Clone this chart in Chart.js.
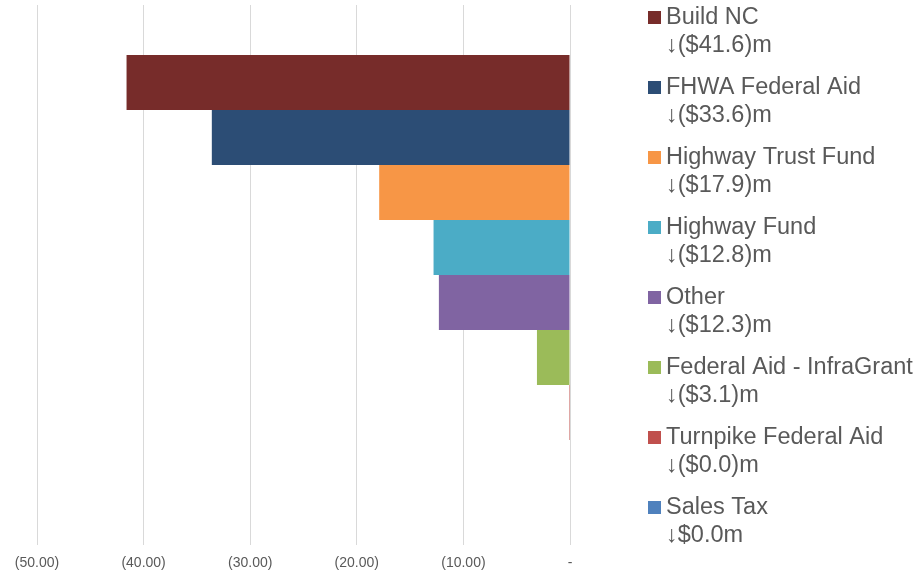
<!DOCTYPE html>
<html>
<head>
<meta charset="utf-8">
<script src="https://cdn.jsdelivr.net/npm/chart.js@4/dist/chart.umd.min.js"></script>
<style>
  html, body { margin: 0; padding: 0; background: #fff; }
  #wrap { width: 921px; height: 573px; }
</style>
</head>
<body>
<div id="wrap"><canvas id="myChart" width="921" height="573"></canvas></div>
<script>
const sources = [
  'Build NC',
  'FHWA Federal Aid',
  'Highway Trust Fund',
  'Highway Fund',
  'Other',
  'Federal Aid - InfraGrant',
  'Turnpike Federal Aid',
  'Sales Tax'
];
const changes = [-41.6, -33.6, -17.9, -12.8, -12.3, -3.1, -0.04, 0];
const colors = ['#772C2A', '#2C4D75', '#F79646', '#4BACC6', '#8064A2', '#9BBB59', '#C0504D', '#4F81BD'];
const xTicks = [-50, -40, -30, -20, -10, 0];

function fmtChange(v) {
  if (v < 0) return '\u2193($' + Math.abs(v).toFixed(1) + ')m';
  return '\u2193$' + v.toFixed(1) + 'm';
}

function fmtTick(v) {
  if (v === 0) return '-';
  return '(' + Math.abs(v).toFixed(2) + ')';
}

// legend drawn by hand, two lines per entry
const sideLegend = {
  id: 'sideLegend',
  afterDraw(chart) {
    const ctx = chart.ctx;
    ctx.save();
    ctx.textBaseline = 'middle';
    ctx.textAlign = 'left';
    ctx.font = '23.5px "Liberation Sans", Arial, sans-serif';
    chart.data.datasets.forEach((ds, i) => {
      const y = 18 + i * 70;
      ctx.fillStyle = ds.backgroundColor;
      ctx.fillRect(648, y - 7, 13, 13);
      ctx.fillStyle = '#595959';
      ctx.fillText(ds.label, 666, y);
      ctx.fillText(fmtChange(ds.data[0]), 666, y + 28);
    });
    ctx.restore();
  }
};

const config = {
  type: 'bar',
  data: {
    labels: [''],
    datasets: sources.map((s, i) => ({
      label: s,
      data: [changes[i]],
      backgroundColor: colors[i],
      borderWidth: 0,
      // tiny non-zero values still show as a hairline
      minBarLength: changes[i] !== 0 ? 1 : 0
    }))
  },
  options: {
    indexAxis: 'y',
    responsive: false,
    animation: false,
    layout: { padding: { left: 37, right: 351, top: 5, bottom: 0 } },
    datasets: { bar: { categoryPercentage: 0.815, barPercentage: 1 } },
    plugins: {
      legend: { display: false },
      tooltip: { enabled: false }
    },
    scales: {
      x: {
        min: -50,
        max: 0,
        afterBuildTicks: (axis) => { axis.ticks = xTicks.map(v => ({ value: v })); },
        afterFit: (axis) => { axis.height = 28; },
        border: { display: false },
        grid: { color: '#D9D9D9', lineWidth: 1, drawTicks: false },
        ticks: {
          padding: 10,
          color: '#595959',
          font: { family: '"Liberation Sans", Arial, sans-serif', size: 14 },
          maxRotation: 0,
          callback: (v) => fmtTick(v)
        }
      },
      y: {
        display: false
      }
    }
  },
  plugins: [sideLegend]
};

let myChart = new Chart(document.getElementById('myChart').getContext('2d'), config);
</script>
</body>
</html>
